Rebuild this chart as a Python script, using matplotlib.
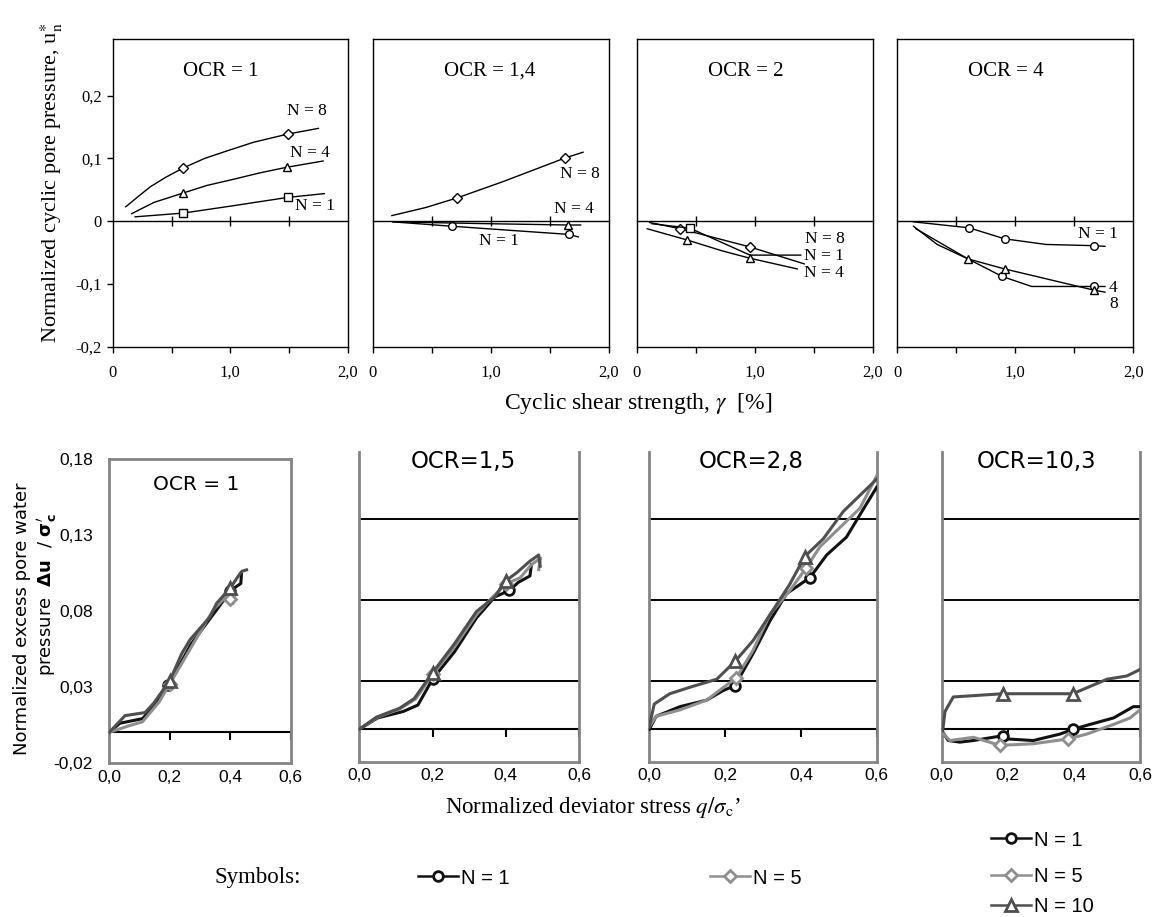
import matplotlib.pyplot as plt
from matplotlib.lines import Line2D

W, H = 1153, 917

plt.rcParams['mathtext.fontset'] = 'stix'

SERIF = 'Liberation Serif'
SANS = 'Liberation Sans'

# ---------------- upper row: normalized cyclic pore pressure vs cyclic strain ----------------
top_titles = ['OCR = 1', 'OCR = 1,4', 'OCR = 2', 'OCR = 4']
top_title_x = [0.92, 0.99, 0.92, 0.92]

# OCR = 1
t1_n8_x = [0.11, 0.22, 0.32, 0.45, 0.60, 0.78, 0.97, 1.20, 1.49, 1.75]
t1_n8_y = [0.023, 0.040, 0.055, 0.070, 0.085, 0.100, 0.112, 0.126, 0.139, 0.148]
t1_n8_mk = [4, 8]
t1_n4_x = [0.16, 0.35, 0.60, 0.80, 1.03, 1.25, 1.48, 1.79]
t1_n4_y = [0.012, 0.030, 0.045, 0.057, 0.067, 0.077, 0.086, 0.096]
t1_n4_mk = [2, 6]
t1_n1_x = [0.19, 0.60, 1.00, 1.49, 1.80]
t1_n1_y = [0.007, 0.013, 0.024, 0.038, 0.044]
t1_n1_mk = [1, 3]

# OCR = 1,4
t2_n8_x = [0.16, 0.45, 0.71, 1.10, 1.63, 1.78]
t2_n8_y = [0.009, 0.022, 0.037, 0.063, 0.101, 0.110]
t2_n8_mk = [2, 4]
t2_n4_x = [0.17, 1.00, 1.65, 1.76]
t2_n4_y = [-0.001, -0.004, -0.006, -0.006]
t2_n4_mk = [2]
t2_n1_x = [0.17, 0.67, 1.20, 1.66, 1.74]
t2_n1_y = [-0.001, -0.008, -0.015, -0.021, -0.025]
t2_n1_mk = [1, 3]

# OCR = 2
t3_n8_x = [0.11, 0.37, 0.96, 1.42]
t3_n8_y = [-0.002, -0.012, -0.041, -0.068]
t3_n8_mk = [1, 2]
t3_n1_x = [0.13, 0.45, 0.96, 1.39]
t3_n1_y = [-0.004, -0.011, -0.054, -0.054]
t3_n1_mk = [1]
t3_n4_x = [0.09, 0.43, 0.72, 0.96, 1.36]
t3_n4_y = [-0.012, -0.030, -0.047, -0.059, -0.076]
t3_n4_mk = [1, 3]

# OCR = 4
t4_n1_x = [0.14, 0.61, 0.91, 1.26, 1.67, 1.76]
t4_n1_y = [-0.001, -0.0105, -0.028, -0.037, -0.039, -0.040]
t4_n1_mk = [1, 2, 4]
t4_n4_x = [0.14, 0.34, 0.60, 0.89, 1.14, 1.67, 1.76]
t4_n4_y = [-0.008, -0.037, -0.060, -0.088, -0.104, -0.104, -0.104]
t4_n4_mk = [3, 5]
t4_n8_x = [0.16, 0.60, 0.91, 1.67, 1.76]
t4_n8_y = [-0.012, -0.060, -0.076, -0.110, -0.113]
t4_n8_mk = [1, 2, 3]

top_curves = [
    [(t1_n8_x, t1_n8_y, 'D', t1_n8_mk), (t1_n4_x, t1_n4_y, '^', t1_n4_mk), (t1_n1_x, t1_n1_y, 's', t1_n1_mk)],
    [(t2_n8_x, t2_n8_y, 'D', t2_n8_mk), (t2_n4_x, t2_n4_y, '^', t2_n4_mk), (t2_n1_x, t2_n1_y, 'o', t2_n1_mk)],
    [(t3_n8_x, t3_n8_y, 'D', t3_n8_mk), (t3_n1_x, t3_n1_y, 's', t3_n1_mk), (t3_n4_x, t3_n4_y, '^', t3_n4_mk)],
    [(t4_n1_x, t4_n1_y, 'o', t4_n1_mk), (t4_n4_x, t4_n4_y, 'o', t4_n4_mk), (t4_n8_x, t4_n8_y, '^', t4_n8_mk)],
]

top_labels = [
    [('N = 8', 1.65, 0.175), ('N = 4', 1.68, 0.109), ('N = 1', 1.72, 0.025)],
    [('N = 8', 1.75, 0.076), ('N = 4', 1.70, 0.019), ('N = 1', 1.07, -0.032)],
    [('N = 8', 1.59, -0.028), ('N = 1', 1.59, -0.055), ('N = 4', 1.59, -0.082)],
    [('N = 1', 1.70, -0.021), ('4', 1.83, -0.106), ('8', 1.83, -0.132)],
]

# ---------------- lower row: excess pore pressure vs deviator stress ----------------
bot_titles = ['OCR = 1', 'OCR=1,5', 'OCR=2,8', 'OCR=10,3']

# OCR = 1
b1_n1_x = [0, 0.035, 0.11, 0.15, 0.195, 0.24, 0.27, 0.33, 0.36, 0.40, 0.42, 0.435, 0.437]
b1_n1_y = [0, 0.006, 0.009, 0.018, 0.031, 0.047, 0.058, 0.074, 0.082, 0.093, 0.096, 0.098, 0.104]
b1_n1_mk = [4, 9]
b1_n5_x = [0, 0.06, 0.11, 0.165, 0.20, 0.23, 0.30, 0.345, 0.385, 0.40, 0.41, 0.415]
b1_n5_y = [0, 0.004, 0.007, 0.020, 0.032, 0.042, 0.066, 0.081, 0.089, 0.088, 0.085, 0.090]
b1_n5_mk = [4, 9]
b1_n10_x = [0, 0.052, 0.118, 0.146, 0.20, 0.24, 0.267, 0.333, 0.355, 0.40, 0.427, 0.438, 0.454]
b1_n10_y = [0, 0.011, 0.013, 0.019, 0.034, 0.052, 0.061, 0.076, 0.085, 0.095, 0.103, 0.106, 0.107]
b1_n10_mk = [4, 9]

# OCR = 1,5
b2_n1_x = [0, 0.05, 0.12, 0.16, 0.20, 0.26, 0.32, 0.37, 0.41, 0.434, 0.466, 0.47]
b2_n1_y = [0, 0.007, 0.011, 0.015, 0.031, 0.048, 0.069, 0.082, 0.086, 0.091, 0.095, 0.102]
b2_n1_mk = [4, 8]
b2_n5_x = [0, 0.05, 0.11, 0.155, 0.20, 0.26, 0.32, 0.36, 0.40, 0.44, 0.47, 0.495, 0.49]
b2_n5_y = [0, 0.0075, 0.0125, 0.019, 0.034, 0.051, 0.071, 0.081, 0.090, 0.094, 0.102, 0.106, 0.099]
b2_n5_mk = [4, 8]
b2_n10_x = [0, 0.047, 0.11, 0.15, 0.20, 0.26, 0.32, 0.37, 0.40, 0.43, 0.465, 0.49, 0.494]
b2_n10_y = [0, 0.0075, 0.013, 0.019, 0.035, 0.053, 0.073, 0.082, 0.092, 0.097, 0.104, 0.108, 0.101]
b2_n10_mk = [4, 8]

# OCR = 2,8
b3_n1_x = [0, 0.018, 0.081, 0.151, 0.195, 0.226, 0.274, 0.318, 0.362, 0.424, 0.468, 0.52, 0.556, 0.6]
b3_n1_y = [0, 0.008, 0.014, 0.018, 0.024, 0.027, 0.047, 0.067, 0.084, 0.094, 0.108, 0.119, 0.133, 0.150]
b3_n1_mk = [5, 9]
b3_n5_x = [0, 0.018, 0.081, 0.151, 0.23, 0.274, 0.318, 0.371, 0.414, 0.45, 0.503, 0.556, 0.6]
b3_n5_y = [0.0016, 0.008, 0.012, 0.018, 0.032, 0.049, 0.071, 0.086, 0.100, 0.113, 0.125, 0.137, 0.157]
b3_n5_mk = [4, 8]
b3_n10_x = [0, 0.013, 0.054, 0.107, 0.178, 0.226, 0.274, 0.327, 0.371, 0.41, 0.459, 0.512, 0.556, 0.6]
b3_n10_y = [0.0016, 0.0156, 0.022, 0.026, 0.031, 0.042, 0.055, 0.074, 0.090, 0.107, 0.118, 0.135, 0.145, 0.155]
b3_n10_mk = [5, 9]

# OCR = 10,3
b4_n1_x = [0, 0.02, 0.055, 0.096, 0.185, 0.197, 0.277, 0.358, 0.398, 0.449, 0.52, 0.58, 0.6]
b4_n1_y = [-0.001, -0.007, -0.008, -0.007, -0.004, -0.006, -0.007, -0.003, 0.0, 0.003, 0.007, 0.014, 0.014]
b4_n1_mk = [4, 8]
b4_n5_x = [0, 0.025, 0.096, 0.176, 0.277, 0.383, 0.439, 0.52, 0.57, 0.6]
b4_n5_y = [-0.002, -0.007, -0.005, -0.010, -0.009, -0.006, -0.003, 0.003, 0.007, 0.012]
b4_n5_mk = [3, 5]
b4_n10_x = [0.003, 0.01, 0.035, 0.185, 0.397, 0.50, 0.56, 0.6]
b4_n10_y = [-0.001, 0.011, 0.020, 0.022, 0.022, 0.031, 0.033, 0.037]
b4_n10_mk = [3, 4]

bot_curves = [
    [(b1_n1_x, b1_n1_y, b1_n1_mk), (b1_n5_x, b1_n5_y, b1_n5_mk), (b1_n10_x, b1_n10_y, b1_n10_mk)],
    [(b2_n1_x, b2_n1_y, b2_n1_mk), (b2_n5_x, b2_n5_y, b2_n5_mk), (b2_n10_x, b2_n10_y, b2_n10_mk)],
    [(b3_n1_x, b3_n1_y, b3_n1_mk), (b3_n5_x, b3_n5_y, b3_n5_mk), (b3_n10_x, b3_n10_y, b3_n10_mk)],
    [(b4_n1_x, b4_n1_y, b4_n1_mk), (b4_n5_x, b4_n5_y, b4_n5_mk), (b4_n10_x, b4_n10_y, b4_n10_mk)],
]

# line style per cycle number: N = 1, N = 5, N = 10
cycle_labels = ['N = 1', 'N = 5', 'N = 10']
cycle_colors = ['#111111', '#8e8e8e', '#4f4f4f']
cycle_markers = ['o', 'D', '^']
cycle_ms = [7.0, 6.0, 8.0]


def rect(left, right, top, bottom):
    """Pixel box -> figure fraction [l, b, w, h]."""
    return [left / W, 1 - bottom / H, (right - left) / W, (bottom - top) / H]


fig = plt.figure(figsize=(W / 100, H / 100), dpi=100)

# ---- upper panels ----
top_boxes = [(112.8, 347.8), (373.0, 609.0), (636.6, 872.8), (897.0, 1133.3)]
top_ms = {'D': 5.0, 's': 5.5, '^': 6.0, 'o': 5.5}
for i, (l, r) in enumerate(top_boxes):
    ax = fig.add_axes(rect(l, r, 39.3, 346.7))
    ax.set_xlim(0, 2.0)
    ax.set_ylim(-0.2, 0.29)
    for x, y, m, idx in top_curves[i]:
        ax.plot(x, y, color='black', lw=1.0, marker=m, markevery=idx,
                ms=top_ms[m], mfc='white', mec='black', mew=1.0, zorder=3)
    for s, tx, ty in top_labels[i]:
        ax.text(tx, ty, s, family=SERIF, fontsize=12.5, ha='center', va='center')
    ax.text(top_title_x[i], 0.239, top_titles[i], family=SERIF, fontsize=15,
            ha='center', va='center')

    for sp in ax.spines.values():
        sp.set_linewidth(1.0)
    ax.set_xticks([0, 0.5, 1.0, 1.5, 2.0])
    ax.set_xticklabels(['0', '', '1,0', '', '2,0'], family=SERIF, fontsize=12)
    ax.tick_params(axis='x', direction='out', length=4, width=1, pad=9)
    if i == 0:
        ax.set_yticks([-0.2, -0.1, 0, 0.1, 0.2])
        ax.set_yticklabels(['-0,2', '-0,1', '0', '0,1', '0,2'], family=SERIF, fontsize=12)
        ax.tick_params(axis='y', direction='out', length=4, width=1, pad=4)
    else:
        ax.set_yticks([])

    # zero line with its own small ticks
    zero = ax.secondary_xaxis(0.2 / 0.49)
    zero.set_xticks([0.5, 1.0, 1.5])
    zero.tick_params(axis='x', direction='inout', length=7, width=1,
                     labelbottom=False, labeltop=False)
    for sp in zero.spines.values():
        sp.set_linewidth(1.0)

fig.text(52 / W, 1 - 183 / H, r'Normalized cyclic pore pressure, u$_{\mathrm{n}}^{\ast}$',
         family=SERIF, fontsize=16, rotation=90, ha='center', va='center')
fig.text(638 / W, 1 - 403 / H, r'Cyclic shear strength, $\gamma$  [%]',
         family=SERIF, fontsize=17, ha='center', va='center')

# ---- lower panels ----
bot_boxes = [(109.3, 290.7, 459.0, 762.7), (359.3, 579.0, 451.7, 761.5),
             (649.3, 876.7, 451.7, 761.5), (941.7, 1140.0, 451.7, 761.5)]
bot_ylims = [(-0.02, 0.18), (-0.02, 0.172), (-0.02, 0.172), (-0.02, 0.172)]
frame_gray = '#848484'
for i, (l, r, t, b) in enumerate(bot_boxes):
    ax = fig.add_axes(rect(l, r, t, b))
    ax.set_xlim(0, 0.6)
    ax.set_ylim(*bot_ylims[i])
    for k, (x, y, idx) in enumerate(bot_curves[i]):
        ax.plot(x, y, color=cycle_colors[k], lw=2.2, marker=cycle_markers[k], markevery=idx,
                ms=cycle_ms[k], mfc='white', mec=cycle_colors[k], mew=2.0, zorder=3 + k)

    for sp in ax.spines.values():
        sp.set_color(frame_gray)
        sp.set_linewidth(2.0)
    if i > 0:
        ax.spines['top'].set_visible(False)

    ax.set_xticks([0, 0.2, 0.4, 0.6])
    ax.set_xticklabels(['0,0', '0,2', '0,4', '0,6'], family=SANS, fontsize=12.5)
    ax.tick_params(axis='x', length=0, pad=5)
    ax.set_yticks([0.03, 0.08, 0.13], minor=True)
    ax.yaxis.grid(True, which='minor', color='black', lw=1.4)
    ax.tick_params(axis='y', which='minor', length=0)
    if i == 0:
        ax.set_yticks([-0.02, 0.03, 0.08, 0.13, 0.18])
        ax.set_yticklabels(['-0,02', '0,03', '0,08', '0,13', '0,18'], family=SANS, fontsize=12.5)
        ax.tick_params(axis='y', which='major', length=0, pad=12)
    else:
        ax.set_yticks([])

    lo, hi = bot_ylims[i]
    zero = ax.secondary_xaxis(-lo / (hi - lo))
    zero.set_xticks([0.2, 0.4, 0.6])
    zero.tick_params(axis='x', direction='out', length=6, width=1.5,
                     labelbottom=False, labeltop=False)
    for sp in zero.spines.values():
        sp.set_linewidth(1.5)

fig.text(196 / W, 1 - 484 / H, bot_titles[0], fontsize=14.5, ha='center', va='center')
for s, cx in zip(bot_titles[1:], [463.8, 750.8, 1036.7]):
    fig.text(cx / W, 1 - 461.3 / H, s, fontsize=16.5, ha='center', va='center')

fig.text(22 / W, 1 - 619 / H, 'Normalized excess pore water', fontsize=13,
         rotation=90, ha='center', va='center')
fig.text(47 / W, 1 - 595 / H,
         r'pressure  $\mathbf{\Delta u}$  / $\mathbf{\sigma}_{\mathbf{c}}^{\prime}$',
         fontsize=13, rotation=90, ha='center', va='center', math_fontfamily='dejavusans')

fig.text(592.5 / W, 1 - 808 / H, r'Normalized deviator stress $q/\sigma_{\mathrm{c}}$’',
         family=SERIF, fontsize=16.5, ha='center', va='center')

# ---- symbol key ----
fig.text(258 / W, 1 - 878 / H, 'Symbols:', family=SERIF, fontsize=16.5,
         ha='center', va='center')


def key_entry(x_px, y_px, k):
    h = Line2D([], [], color=cycle_colors[k], lw=1.8, marker=cycle_markers[k],
               ms=cycle_ms[k], mfc='white', mec=cycle_colors[k], mew=2.0)
    fig.legend(handles=[h], labels=[cycle_labels[k]], loc='center left',
               bbox_to_anchor=(x_px / W, 1 - y_px / H), frameon=False,
               handlelength=2.0, handletextpad=0.15, borderpad=0, borderaxespad=0,
               prop={'family': SANS, 'size': 14.5})


key_entry(418, 878, 0)
key_entry(710, 878, 1)
key_entry(991, 840, 0)
key_entry(991, 877, 1)
key_entry(991, 907, 2)

fig.savefig('out.png', dpi=100)
